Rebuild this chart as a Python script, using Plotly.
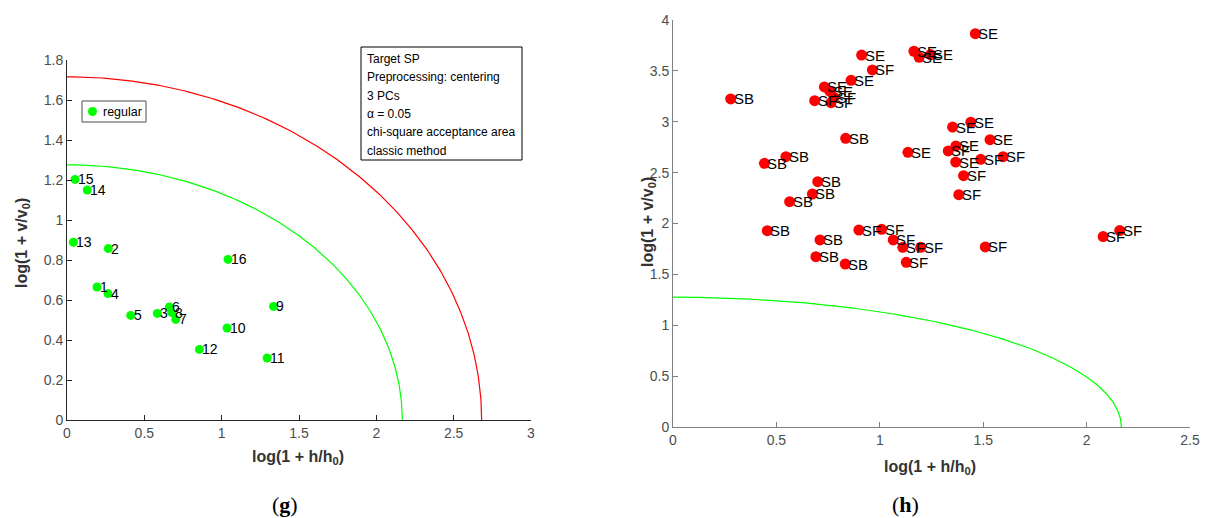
import numpy as np
import plotly.graph_objects as go

# ---------------- data: panel (g) ----------------
g_labels = ["1", "2", "3", "4", "5", "6", "7", "8", "9", "10", "11", "12", "13", "14", "15", "16"]
g_x = [0.194, 0.267, 0.584, 0.265, 0.412, 0.662, 0.703, 0.677, 1.335, 1.035, 1.294, 0.856, 0.041, 0.131, 0.052, 1.041]
g_y = [0.665, 0.857, 0.533, 0.632, 0.523, 0.565, 0.503, 0.537, 0.568, 0.460, 0.310, 0.353, 0.889, 1.150, 1.203, 0.803]

# acceptance ellipse semi-axes (x-intercept, y-intercept)
green_ax = (2.168, 1.276)
red_ax = (2.681, 1.716)

legend_name = "regular"
info_lines = ["Target SP", "Preprocessing: centering", "3 PCs", "α = 0.05",
              "chi-square acceptance area", "classic method"]

# ---------------- data: panel (h) ----------------
h_labels = ["SE", "SE", "SE", "SE", "SE", "SF", "SE", "SE", "SE", "SF", "SF", "SF",
            "SB", "SB", "SE", "SB", "SB",
            "SB", "SB", "SB", "SB", "SF", "SF", "SB", "SF", "SB", "SF", "SF", "SB", "SF",
            "SE", "SE", "SE", "SF", "SE", "SE", "SF", "SF", "SF", "SF",
            "SF", "SF", "SF"]
h_x = [1.462, 0.912, 1.165, 1.190, 1.245, 0.964, 0.861, 0.732, 0.758, 0.685, 0.764, 0.778,
       0.279, 0.835, 1.136, 0.546, 0.442,
       0.700, 0.674, 0.564, 0.456, 0.899, 1.009, 0.711, 1.065, 0.691, 1.111, 1.198, 0.833, 1.128,
       1.352, 1.440, 1.533, 1.331, 1.368, 1.367, 1.488, 1.596, 1.405, 1.382,
       1.510, 2.080, 2.160]
h_y = [3.866, 3.655, 3.693, 3.634, 3.660, 3.509, 3.407, 3.342, 3.300, 3.207, 3.187, 3.240,
       3.224, 2.837, 2.700, 2.657, 2.591,
       2.411, 2.290, 2.214, 1.929, 1.936, 1.943, 1.838, 1.838, 1.674, 1.766, 1.766, 1.602, 1.619,
       2.948, 2.995, 2.824, 2.713, 2.762, 2.604, 2.631, 2.657, 2.470, 2.283,
       1.770, 1.872, 1.930]


def ellipse(ax):
    a, b = ax
    t = np.linspace(0, np.pi / 2, 300)
    return a * np.cos(t), b * np.sin(t)


W, H = 1207, 518
FONT = "Arial, Liberation Sans, sans-serif"

fig = go.Figure()

# panel (g)
ex, ey = ellipse(green_ax)
fig.add_trace(go.Scatter(x=ex, y=ey, mode="lines", line=dict(color="#00ff00", width=1.2),
                         showlegend=False, hoverinfo="skip", xaxis="x", yaxis="y"))
rx, ry = ellipse(red_ax)
fig.add_trace(go.Scatter(x=rx, y=ry, mode="lines", line=dict(color="#ff0000", width=1.2),
                         showlegend=False, hoverinfo="skip", xaxis="x", yaxis="y"))
fig.add_trace(go.Scatter(x=g_x, y=g_y, mode="markers",
                         marker=dict(color="#00ff00", size=9),
                         name=legend_name, showlegend=False, xaxis="x", yaxis="y"))

# panel (h)
fig.add_trace(go.Scatter(x=ex, y=ey, mode="lines", line=dict(color="#00ff00", width=1.2),
                         showlegend=False, hoverinfo="skip", xaxis="x2", yaxis="y2"))
fig.add_trace(go.Scatter(x=h_x, y=h_y, mode="markers",
                         marker=dict(color="#ff0000", size=11),
                         showlegend=False, xaxis="x2", yaxis="y2"))


def px_x(p):
    return p / W


def px_y(p):
    return 1 - p / H


ax_common = dict(showgrid=False, zeroline=False, ticks="inside", ticklen=5,
                 tickfont=dict(family=FONT, size=14, color="#4d4d4d"),
                 showline=True, mirror=False, automargin=False)

fig.update_layout(
    width=W, height=H,
    margin=dict(l=0, r=0, t=0, b=0, autoexpand=False),
    paper_bgcolor="white", plot_bgcolor="white",
    showlegend=False,
    xaxis=dict(domain=[px_x(67), px_x(531)], range=[0, 3], dtick=0.5,
               linecolor="#262626", tickcolor="#262626", anchor="y", **ax_common),
    yaxis=dict(domain=[px_y(420), px_y(60)], range=[0, 1.8], dtick=0.2,
               linecolor="#262626", tickcolor="#262626", anchor="x", **ax_common),
    xaxis2=dict(domain=[px_x(673), px_x(1190)], range=[0, 2.5], dtick=0.5,
                linecolor="#808080", tickcolor="#808080", anchor="y2", **ax_common),
    yaxis2=dict(domain=[px_y(427), px_y(20)], range=[0, 4], dtick=0.5,
                linecolor="#808080", tickcolor="#808080", anchor="x2", **ax_common),
)

# point labels (MATLAB style text to the right of each marker)
lab_font_g = dict(family=FONT, size=14, color="#000000")
lab_font_h = dict(family=FONT, size=15, color="#000000")
for lx, ly, lt in zip(g_x, g_y, g_labels):
    fig.add_annotation(x=lx, y=ly, xref="x", yref="y", text=lt, showarrow=False,
                       xanchor="left", yanchor="middle", xshift=2, font=lab_font_g,
                       borderpad=0)
for lx, ly, lt in zip(h_x, h_y, h_labels):
    fig.add_annotation(x=lx, y=ly, xref="x2", yref="y2", text=lt, showarrow=False,
                       xanchor="left", yanchor="middle", xshift=2, font=lab_font_h,
                       borderpad=0)

title_font = dict(family=FONT, size=16, color="#333333")
annos = [
    dict(text="<b>log(1 + h/h<sub>0</sub>)</b>", x=px_x(298), y=px_y(457), font=title_font),
    dict(text="<b>log(1 + v/v<sub>0</sub>)</b>", x=px_x(22), y=px_y(243), font=title_font, textangle=-90),
    dict(text="<b>log(1 + h/h<sub>0</sub>)</b>", x=px_x(930), y=px_y(467), font=title_font),
    dict(text="<b>log(1 + v/v<sub>0</sub>)</b>", x=px_x(648), y=px_y(222), font=title_font, textangle=-90),
    dict(text="(<b>g</b>)", x=px_x(285), y=px_y(504),
         font=dict(family="Liberation Serif, Times New Roman, serif", size=22, color="#000000")),
    dict(text="(<b>h</b>)", x=px_x(905), y=px_y(504),
         font=dict(family="Liberation Serif, Times New Roman, serif", size=22, color="#000000")),
]
for a in annos:
    fig.add_annotation(xref="paper", yref="paper", showarrow=False,
                       xanchor="center", yanchor="middle", **a)

# legend box (manual, MATLAB-like)
fig.add_shape(type="rect", xref="paper", yref="paper",
              x0=px_x(82), x1=px_x(146), y0=px_y(122), y1=px_y(101),
              line=dict(color="#4d4d4d", width=1), fillcolor="white")
fig.add_shape(type="circle", xref="paper", yref="paper",
              x0=px_x(88), x1=px_x(97), y0=px_y(116), y1=px_y(107),
              line=dict(color="#00ff00", width=0), fillcolor="#00ff00")
fig.add_annotation(xref="paper", yref="paper", x=px_x(101), y=px_y(112), text=legend_name,
                   showarrow=False, xanchor="left", yanchor="middle",
                   font=dict(family=FONT, size=12.5, color="#000000"))

# info box
fig.add_shape(type="rect", xref="paper", yref="paper",
              x0=px_x(361), x1=px_x(522), y0=px_y(160), y1=px_y(47),
              line=dict(color="#000000", width=1), fillcolor="white")
for i, line in enumerate(info_lines):
    fig.add_annotation(xref="paper", yref="paper", x=px_x(365), y=px_y(59 + i * 18.3),
                       text=line, showarrow=False, xanchor="left", yanchor="middle",
                       font=dict(family=FONT, size=12, color="#000000"))

fig.write_html("out.html")
